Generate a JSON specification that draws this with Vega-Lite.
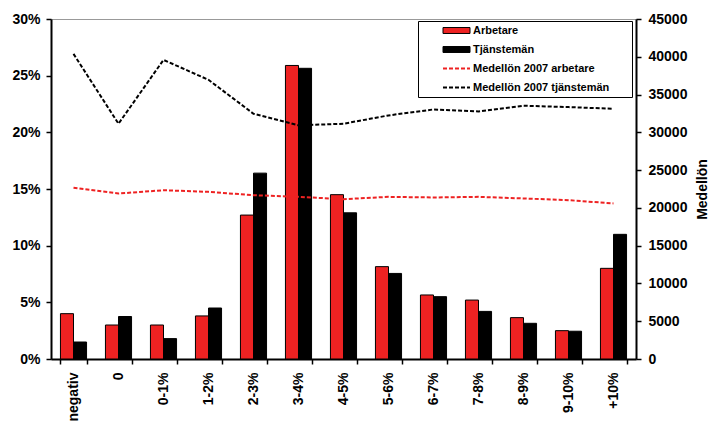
{
  "$schema": "https://vega.github.io/schema/vega-lite/v6.json",
  "autosize": {"type": "none"},
  "width": 585,
  "height": 340,
  "padding": {"left": 51, "top": 19, "right": 74, "bottom": 62},
  "background": "white",
  "datasets": {
    "andelar": [
      {"kat": "negativ", "serie": "Arbetare", "andel": 4.0},
      {"kat": "negativ", "serie": "Tjänstemän", "andel": 1.5},
      {"kat": "0", "serie": "Arbetare", "andel": 3.0},
      {"kat": "0", "serie": "Tjänstemän", "andel": 3.75},
      {"kat": "0-1%", "serie": "Arbetare", "andel": 3.0},
      {"kat": "0-1%", "serie": "Tjänstemän", "andel": 1.8},
      {"kat": "1-2%", "serie": "Arbetare", "andel": 3.8},
      {"kat": "1-2%", "serie": "Tjänstemän", "andel": 4.5},
      {"kat": "2-3%", "serie": "Arbetare", "andel": 12.7},
      {"kat": "2-3%", "serie": "Tjänstemän", "andel": 16.4},
      {"kat": "3-4%", "serie": "Arbetare", "andel": 25.9},
      {"kat": "3-4%", "serie": "Tjänstemän", "andel": 25.65},
      {"kat": "4-5%", "serie": "Arbetare", "andel": 14.5},
      {"kat": "4-5%", "serie": "Tjänstemän", "andel": 12.9},
      {"kat": "5-6%", "serie": "Arbetare", "andel": 8.15},
      {"kat": "5-6%", "serie": "Tjänstemän", "andel": 7.55},
      {"kat": "6-7%", "serie": "Arbetare", "andel": 5.65},
      {"kat": "6-7%", "serie": "Tjänstemän", "andel": 5.5},
      {"kat": "7-8%", "serie": "Arbetare", "andel": 5.2},
      {"kat": "7-8%", "serie": "Tjänstemän", "andel": 4.2},
      {"kat": "8-9%", "serie": "Arbetare", "andel": 3.65},
      {"kat": "8-9%", "serie": "Tjänstemän", "andel": 3.15},
      {"kat": "9-10%", "serie": "Arbetare", "andel": 2.5},
      {"kat": "9-10%", "serie": "Tjänstemän", "andel": 2.45},
      {"kat": "+10%", "serie": "Arbetare", "andel": 8.0},
      {"kat": "+10%", "serie": "Tjänstemän", "andel": 11.0}
    ],
    "lon": [
      {"kat": "negativ", "serie": "Medellön 2007 arbetare", "lon": 22650},
      {"kat": "0", "serie": "Medellön 2007 arbetare", "lon": 21900},
      {"kat": "0-1%", "serie": "Medellön 2007 arbetare", "lon": 22340},
      {"kat": "1-2%", "serie": "Medellön 2007 arbetare", "lon": 22120},
      {"kat": "2-3%", "serie": "Medellön 2007 arbetare", "lon": 21680},
      {"kat": "3-4%", "serie": "Medellön 2007 arbetare", "lon": 21460},
      {"kat": "4-5%", "serie": "Medellön 2007 arbetare", "lon": 21150},
      {"kat": "5-6%", "serie": "Medellön 2007 arbetare", "lon": 21460},
      {"kat": "6-7%", "serie": "Medellön 2007 arbetare", "lon": 21380},
      {"kat": "7-8%", "serie": "Medellön 2007 arbetare", "lon": 21460},
      {"kat": "8-9%", "serie": "Medellön 2007 arbetare", "lon": 21250},
      {"kat": "9-10%", "serie": "Medellön 2007 arbetare", "lon": 21020},
      {"kat": "+10%", "serie": "Medellön 2007 arbetare", "lon": 20590},
      {"kat": "negativ", "serie": "Medellön 2007 tjänstemän", "lon": 40380},
      {"kat": "0", "serie": "Medellön 2007 tjänstemän", "lon": 31140},
      {"kat": "0-1%", "serie": "Medellön 2007 tjänstemän", "lon": 39590},
      {"kat": "1-2%", "serie": "Medellön 2007 tjänstemän", "lon": 36950},
      {"kat": "2-3%", "serie": "Medellön 2007 tjänstemän", "lon": 32460},
      {"kat": "3-4%", "serie": "Medellön 2007 tjänstemän", "lon": 30920},
      {"kat": "4-5%", "serie": "Medellön 2007 tjänstemän", "lon": 31140},
      {"kat": "5-6%", "serie": "Medellön 2007 tjänstemän", "lon": 32240},
      {"kat": "6-7%", "serie": "Medellön 2007 tjänstemän", "lon": 33030},
      {"kat": "7-8%", "serie": "Medellön 2007 tjänstemän", "lon": 32770},
      {"kat": "8-9%", "serie": "Medellön 2007 tjänstemän", "lon": 33520},
      {"kat": "9-10%", "serie": "Medellön 2007 tjänstemän", "lon": 33340},
      {"kat": "+10%", "serie": "Medellön 2007 tjänstemän", "lon": 33120}
    ]
  },
  "config": {
    "view": {"stroke": "#999999", "strokeWidth": 1},
    "font": "Liberation Sans",
    "axis": {
      "labelFont": "Liberation Sans",
      "labelFontWeight": "bold",
      "labelFontSize": 14,
      "labelColor": "black",
      "titleFont": "Liberation Sans",
      "titleFontWeight": "bold",
      "titleFontSize": 14,
      "titleColor": "black",
      "domainColor": "black",
      "domainWidth": 2,
      "tickColor": "black",
      "tickWidth": 1.5,
      "tickSize": 5,
      "grid": false
    }
  },
  "layer": [
    {
      "data": {"name": "andelar"},
      "mark": {"type": "bar", "stroke": "black", "strokeWidth": 1},
      "encoding": {
        "x": {
          "field": "kat",
          "type": "nominal",
          "sort": null,
          "scale": {"paddingInner": 0.42, "paddingOuter": 0.21},
          "axis": {"title": null, "labelAngle": -90, "tickBand": "extent", "labelPadding": 8}
        },
        "xOffset": {"field": "serie", "type": "nominal", "scale": {"domain": ["Arbetare", "Tjänstemän"]}},
        "y": {
          "field": "andel",
          "type": "quantitative",
          "scale": {"domain": [0, 30]},
          "axis": {"title": null, "values": [0, 5, 10, 15, 20, 25, 30], "labelExpr": "datum.value + '%'", "labelPadding": 6}
        },
        "fill": {
          "field": "serie",
          "type": "nominal",
          "scale": {"domain": ["Arbetare", "Tjänstemän"], "range": ["#ee2222", "#000000"]},
          "legend": null
        }
      }
    },
    {
      "data": {"name": "lon"},
      "mark": {"type": "line", "strokeDash": [4, 2], "strokeWidth": 2},
      "encoding": {
        "x": {"field": "kat", "type": "nominal", "sort": null},
        "y": {
          "field": "lon",
          "type": "quantitative",
          "scale": {"domain": [0, 45000]},
          "axis": {
            "orient": "right",
            "title": "Medellön",
            "titleAngle": 270,
            "titleX": 66,
            "titleY": 170,
            "titleAlign": "center",
            "titleBaseline": "middle",
            "values": [0, 5000, 10000, 15000, 20000, 25000, 30000, 35000, 40000, 45000],
            "format": "d",
            "labelPadding": 7
          }
        },
        "stroke": {
          "field": "serie",
          "type": "nominal",
          "scale": {
            "domain": ["Arbetare", "Tjänstemän", "Medellön 2007 arbetare", "Medellön 2007 tjänstemän"],
            "range": ["#000000", "#000000", "#ee2222", "#000000"]
          },
          "legend": {
            "title": null,
            "orient": "none",
            "legendX": 367,
            "legendY": 2,
            "padding": 4,
            "strokeColor": "black",
            "fillColor": "white",
            "symbolSize": 324,
            "symbolOffset": 29,
            "labelOffset": 11,
            "rowPadding": 7,
            "labelFont": "Liberation Sans",
            "labelFontWeight": "bold",
            "labelFontSize": 11,
            "labelColor": "black",
            "labelExpr": "datum.label + '\u00a0\u00a0\u00a0\u00a0\u00a0\u00a0\u200b'",
            "encode": {
              "symbols": {
                "update": {
                  "shape": {"signal": "(datum.value == 'Arbetare' || datum.value == 'Tjänstemän') ? 'M-1.5,-0.33H1.5V0.33H-1.5Z' : 'M-1.5,0H1.5'"},
                  "fill": {"signal": "datum.value == 'Arbetare' ? '#ee2222' : (datum.value == 'Tjänstemän' ? '#000000' : 'transparent')"},
                  "strokeWidth": {"signal": "(datum.value == 'Arbetare' || datum.value == 'Tjänstemän') ? 1 : 2"},
                  "strokeDash": {"signal": "(datum.value == 'Arbetare' || datum.value == 'Tjänstemän') ? [] : [4, 2]"},
                  "opacity": {"value": 1},
                  "fillOpacity": {"value": 1},
                  "strokeOpacity": {"value": 1}
                }
              }
            }
          }
        }
      }
    }
  ],
  "resolve": {"scale": {"y": "independent"}}
}
